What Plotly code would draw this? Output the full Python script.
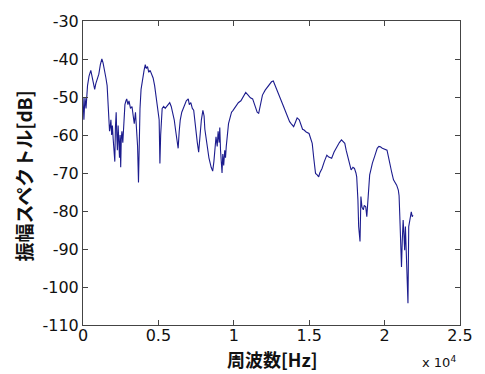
import plotly.graph_objects as go

# Frequency [Hz]
freq_hz = [
    0, 60, 130, 200, 300, 400, 517, 600, 700, 775, 850, 950, 1050, 1150, 1250, 1330, 1420, 1520,
    1600, 1650, 1700, 1760, 1800, 1850, 1900, 1950, 2000, 2050, 2110, 2150, 2200, 2240, 2280, 2330,
    2380, 2420, 2460, 2500, 2540, 2580, 2640, 2700, 2780, 2850, 2900, 2980, 3050, 3150, 3250, 3330,
    3400, 3480, 3560, 3620, 3680, 3720, 3780, 3850, 3950, 4050, 4130, 4200, 4280, 4360, 4450, 4550,
    4650, 4750, 4850, 4950, 5050, 5100, 5150, 5250, 5350, 5450, 5550, 5650, 5750, 5850, 5950, 6050,
    6150, 6250, 6310, 6380, 6450, 6550, 6650, 6750, 6850, 6980, 7050, 7150, 7250, 7340, 7420, 7500,
    7580, 7670, 7750, 7850, 7950, 8030, 8080, 8200, 8350, 8500, 8600, 8680, 8750, 8820, 8900, 8960,
    9030, 9070, 9120, 9180, 9220, 9270, 9330, 9400, 9450, 9500, 9570, 9650, 9750, 9850, 9950, 10050,
    10150, 10300, 10470, 10600, 10790, 10950, 11100, 11250, 11400, 11550, 11650, 11750, 11900, 12080,
    12300, 12500, 12620, 12750, 12900, 13050, 13160, 13300, 13450, 13590, 13700, 13800, 13970, 14100,
    14200, 14340, 14450, 14560, 14660, 14800, 14990, 15100, 15200, 15300, 15420, 15530, 15630, 15700,
    15850, 16000, 16170, 16300, 16490, 16650, 16820, 17000, 17140, 17250, 17360, 17450, 17570, 17680,
    17780, 17900, 18000, 18100, 18150, 18230, 18280, 18370, 18430, 18500, 18590, 18650, 18750, 18820,
    18930, 19010, 19100, 19190, 19350, 19510, 19620, 19720, 19850, 20000, 20160, 20270, 20370, 20480,
    20590, 20700, 20800, 20910, 20960, 21010, 21070, 21120, 21170, 21230, 21280, 21330, 21380, 21430,
    21490, 21550, 21600, 21650, 21700, 21770, 21830, 21880,
]

# Amplitude spectrum [dB]
amp_db = [
    -50, -56, -50, -53, -47, -44.5, -43, -44.5, -46.5, -48, -46.5, -45.5, -44, -41.5, -40, -41, -43.5, -45,
    -47, -50, -55, -59, -58, -56, -60, -57.5, -61, -63, -67, -58, -54, -60, -64, -57.5,
    -62, -66, -60, -68.5, -61, -59, -62, -57, -52, -51, -50.5, -52, -51, -53, -52.5, -55,
    -57, -54, -58, -63, -72.5, -62, -53, -48, -45, -43, -41.5, -42.5, -42, -43.5, -43, -44,
    -45, -47, -50, -52, -56, -67.5, -60, -53, -52.5, -53, -52.5, -52, -51.5, -52.5, -54, -56,
    -59, -61.5, -63.5, -59, -56, -54, -53, -52, -51, -50.5, -52, -51.5, -53, -53.5, -57, -60,
    -62, -64.5, -60, -56, -53.5, -55, -58.5, -62, -66, -68.5, -69.5, -67, -63, -60.5, -63, -59,
    -62, -58, -64, -67, -70, -65, -68, -64, -66, -63, -60, -57, -55.5, -54, -53.5, -53,
    -52.5, -51.5, -51, -50, -48.8, -49.5, -50.2, -50.5, -52.5, -54, -54.3, -52, -49.5, -48.2,
    -47, -46, -45.8, -47, -48.5, -50, -51.2, -52.5, -54, -55.6, -56.5, -57, -57.8, -56.5,
    -55.5, -56, -57.5, -58.5, -58.7, -59.2, -59.6, -61, -62.2, -66, -70.1, -70.5, -71, -70,
    -68.8, -67, -65.3, -65.8, -66.1, -64.5, -63.1, -62, -61.3, -61.8, -62.2, -64, -66.1, -68,
    -69.2, -68.5, -68.8, -70, -71, -77, -84.1, -88, -76.2, -79, -79.7, -78.5, -78.9, -81.5,
    -73.6, -70.5, -69, -67.4, -65.5, -63.5, -63, -63.1, -63.5, -63.8, -64, -66, -68.3, -70,
    -71.8, -72.5, -73.2, -74.5, -76, -81.5, -87, -94.7, -88, -82.4, -86, -90.3, -84.1, -92,
    -100.3, -104.3, -84.1, -83, -82.4, -80.2, -81.5, -81.1,
]

x_tickvals = [0, 5000, 10000, 15000, 20000, 25000]
x_ticktext = ["0", "0.5", "1", "1.5", "2", "2.5"]
y_tickvals = [-110, -100, -90, -80, -70, -60, -50, -40, -30]
y_ticktext = ["-110", "-100", "-90", "-80", "-70", "-60", "-50", "-40", "-30"]

tick_font = dict(family="DejaVu Sans, sans-serif", size=16, color="#111")
title_font = dict(family="Noto Sans CJK JP, sans-serif", size=18, color="#111")

fig = go.Figure()
fig.add_trace(go.Scatter(
    x=freq_hz, y=amp_db, mode="lines",
    line=dict(color="#1c1c8e", width=1.1),
    showlegend=False,
))

axis_common = dict(
    showgrid=False, zeroline=False, showline=True, linecolor="#444", linewidth=1,
    mirror="ticks", ticks="inside", ticklen=5, tickcolor="#444", tickfont=tick_font,
)

fig.update_layout(
    width=485, height=374,
    margin=dict(l=83, r=15, t=21, b=49),
    paper_bgcolor="white", plot_bgcolor="white",
    xaxis=dict(range=[0, 25000], tickvals=x_tickvals, ticktext=x_ticktext,
               ticklabelstandoff=-4, **axis_common),
    yaxis=dict(range=[-110, -30], tickvals=y_tickvals, ticktext=y_ticktext, **axis_common),
    annotations=[
        dict(text="<b>周波数[Hz]</b>", xref="paper", yref="paper", x=0.5, y=-0.112,
             xanchor="center", yanchor="middle", showarrow=False, font=title_font),
        dict(text="<b>振幅スペクトル[dB]</b>", xref="paper", yref="paper", x=-0.158, y=0.49,
             xanchor="center", yanchor="middle", textangle=-90, showarrow=False,
             font=dict(family="Noto Sans CJK JP, sans-serif", size=19, color="#111")),
        dict(text="x 10<sup>4</sup>", xref="paper", yref="paper", x=0.945, y=-0.122,
             xanchor="center", yanchor="middle", showarrow=False,
             font=dict(family="DejaVu Sans, sans-serif", size=13, color="#111")),
    ],
)

fig.write_html("out.html")
